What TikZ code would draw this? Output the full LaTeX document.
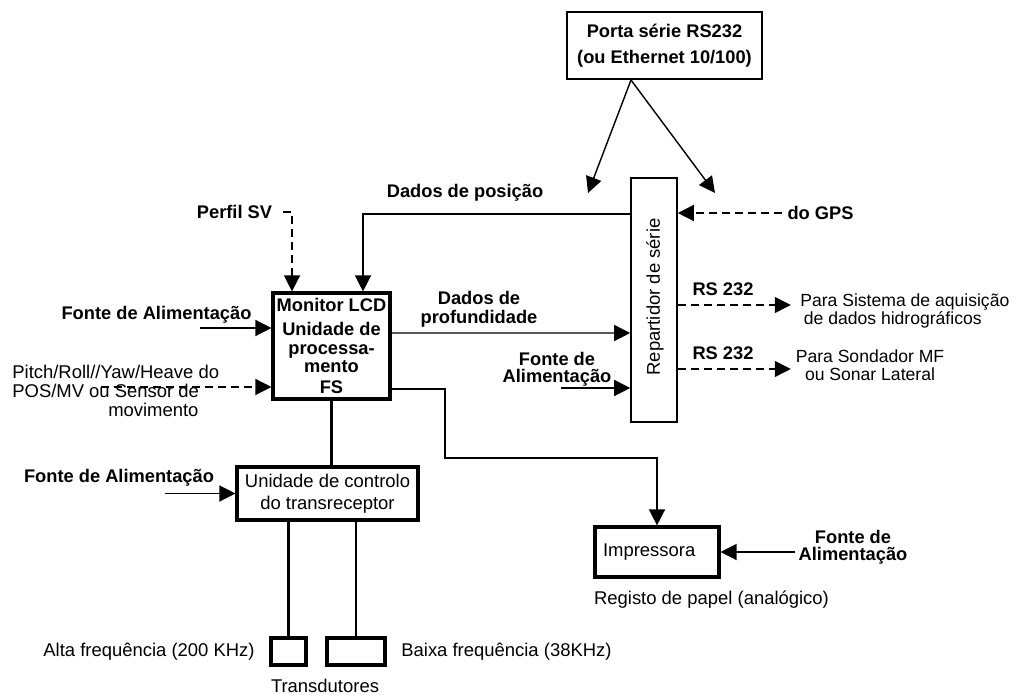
\documentclass[tikz,border=0pt]{standalone}
\usepackage{fontspec}
\setmainfont{Liberation Sans}
\usetikzlibrary{positioning,arrows.meta}

\begin{document}
\begin{tikzpicture}[
  x=0.02cm, y=-0.02cm,
  every node/.style={font=\fontsize{10.4}{10.6}\selectfont, inner sep=0pt},
  lbl/.style={font=\fontsize{10.4}{10.6}\selectfont\bfseries, align=center},
  pwr/.style={font=\fontsize{10.4}{9.6}\selectfont\bfseries, align=center},
  txt/.style={font=\fontsize{10.5}{10.6}\selectfont, align=center},
  side/.style={font=\fontsize{10}{10.4}\selectfont},
  thinbox/.style={draw, line width=0.9pt, fill=white},
  thickbox/.style={draw, line width=1.8pt, fill=white},
  flow/.style={-{Triangle[length=3.2mm,width=3.2mm]}, line width=0.8pt},
  dflow/.style={flow, dash pattern=on 1.6mm off 1mm},
  bus/.style={line width=1.6pt},
]
  \useasboundingbox (0,0) rectangle (1017,695);

  % blocks
  \node[thinbox, lbl, minimum width=3.9cm, minimum height=1.34cm] (porta) at (664.5,45.5)
    {Porta série RS232\\[4pt](ou Ethernet 10/100)};
  \node[thinbox, minimum width=0.92cm, minimum height=4.88cm] (rep) at (654,300) {};
  \node[txt, rotate=90] (reptxt) at (655,297) {Repartidor de série};
  \node[thickbox, lbl, minimum width=2.34cm, minimum height=2.12cm] (mon) at (331.5,346)
    {Monitor LCD\\[3pt]Unidade de\\processa-\\mento\\[1pt]FS};
  \node[thickbox, txt, minimum width=3.62cm, minimum height=1.06cm] (ctrl) at (327.5,493.5)
    {Unidade de controlo\\[2pt]do transreceptor};
  \node[thickbox, txt, minimum width=2.48cm, minimum height=1cm, text width=2.16cm,
        inner xsep=0.16cm, align=left] (impr) at (657,552) {Impressora};
  \node[thickbox, minimum width=0.7cm, minimum height=0.54cm] (hf) at (288.5,651.5) {};
  \node[thickbox, minimum width=1.16cm, minimum height=0.54cm] (lf) at (356,651.5) {};

  % labels
  \node[lbl] (posicao) at (465,193) {Dados de posição};
  \node[lbl] (perfil) at (234.5,212) {Perfil SV};
  \node[lbl] (gps) at (820.5,213) {do GPS};
  \node[lbl] (fonte1) at (156.5,315) {Fonte de Alimentação};
  \node[txt, align=left, anchor=west] (pitch) at (12,391)
    {Pitch/Roll//Yaw/Heave do\\POS/MV ou Sensor de\\\hspace*{5.2em}movimento};
  \node[lbl] (prof) at (479,309) {Dados de\\profundidade};
  \node[pwr] (fonte2) at (557,369) {Fonte de\\Alimentação};
  \node[lbl] (rs1) at (723,289) {RS 232};
  \node[lbl] (rs2) at (723,353) {RS 232};
  \node[txt, side, align=left, anchor=west] (aquis) at (800,311)
    {Para Sistema de aquisição\\\hspace*{2pt}de dados hidrográficos};
  \node[txt, side] (sonar) at (870,365) {Para Sondador MF\\ou Sonar Lateral};
  \node[pwr] (fonte3) at (853,547) {Fonte de\\Alimentação};
  \node[txt] (registo) at (711.5,600) {Registo de papel (analógico)};
  \node[lbl] (fonte4) at (119,478) {Fonte de Alimentação};
  \node[txt, anchor=east] (alta) at (255,652) {Alta frequência (200 KHz)};
  \node[txt, anchor=west] (baixa) at (401,652) {Baixa frequência (38KHz)};
  \node[txt] (transd) at (325,686) {Transdutores};

  \coordinate (split) at (631,80);
  \coordinate (tipl) at (588,193);
  \coordinate (tipr) at (715,193);
  \coordinate (bend) at (445,458);

  % serial port to splitter
  \draw[flow] (split) -- (tipl);
  \draw[flow] (split) -- (tipr);

  % inputs
  \draw[dflow] ([xshift=-0.1cm]gps.west) -- (gps.west -| rep.east);
  \draw[flow] ([yshift=1.72cm]rep.west) -| ([xshift=0.63cm]mon.north);
  \draw[dflow] ([xshift=0.22cm]perfil.east) -| ([xshift=-0.79cm]mon.north);
  \draw[flow] ([xshift=-1.42cm,yshift=0.36cm]mon.west) -- ([yshift=0.36cm]mon.west);
  \draw[dflow] ([xshift=-3.4cm,yshift=-0.82cm]mon.west) -- ([yshift=-0.82cm]mon.west);
  \draw[flow] ([yshift=0.26cm]mon.east) -- ([yshift=-0.66cm]rep.west);
  \draw[flow] ([xshift=-1.38cm,yshift=-1.76cm]rep.west) -- ([yshift=-1.76cm]rep.west);

  % outputs
  \draw[dflow] ([yshift=-0.1cm]rep.east) -- ([xshift=2.26cm,yshift=-0.1cm]rep.east);
  \draw[dflow] ([yshift=-1.38cm]rep.east) -- ([xshift=2.26cm,yshift=-1.38cm]rep.east);
  \draw[flow] ([yshift=-0.86cm]mon.east) -| (bend) -| (impr.north);
  \draw[flow] ([xshift=1.48cm]impr.east) -- (impr.east);

  % transceiver and transducers
  \draw[bus] (mon.south) -- (mon.south |- ctrl.north);
  \draw[flow] ([xshift=-1.4cm]ctrl.west) -- (ctrl.west);
  \draw[bus] (hf.north) -- (hf.north |- ctrl.south);
  \draw[bus] (lf.north) -- (lf.north |- ctrl.south);
\end{tikzpicture}
\end{document}
